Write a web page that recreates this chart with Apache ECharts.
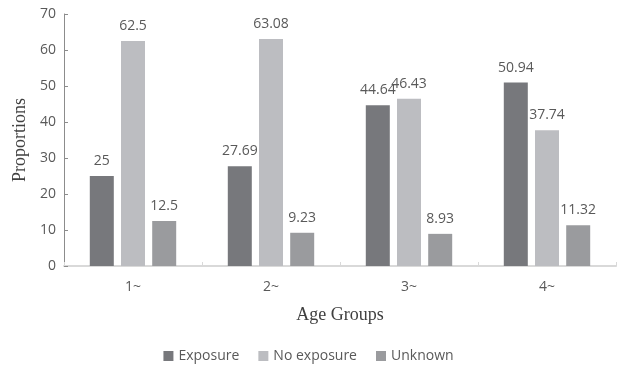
<!DOCTYPE html>
<html>
<head>
<meta charset="utf-8">
<script src="https://cdn.jsdelivr.net/npm/echarts@6/dist/echarts.min.js"></script>
<style>html,body{margin:0;padding:0;background:#fff;}#c{width:617px;height:372px;}</style>
</head>
<body>
<div id="c"></div>
<script>
const categories = ['1~', '2~', '3~', '4~'];
const exposure = [25, 27.69, 44.64, 50.94];
const noExposure = [62.5, 63.08, 46.43, 37.74];
const unknown = [12.5, 9.23, 8.93, 11.32];
const seriesNames = ['Exposure', 'No exposure', 'Unknown'];
const yTicks = { min: 0, max: 70, interval: 10 };

const colors = ['#77787c', '#bcbdc1', '#9a9b9e'];
const labelStyle = {
  show: true, position: 'top', distance: 8,
  color: '#595959', fontSize: 14, fontFamily: 'Open Sans'
};
function mk(name, data, i) {
  return {
    name: name, type: 'bar', data: data,
    barWidth: 24, barGap: '30%',
    itemStyle: { color: colors[i] },
    label: labelStyle
  };
}
const chart = echarts.init(document.getElementById('c'), null, { renderer: 'canvas' });
chart.setOption({
  animation: false,
  color: colors,
  grid: { left: 64, right: 1, top: 14, bottom: 106, containLabel: false, outerBoundsMode: 'none' },
  legend: {
    bottom: 4, left: 'center',
    itemWidth: 10, itemHeight: 10, itemGap: 19,
    icon: 'rect',
    textStyle: { color: '#595959', fontSize: 14, fontFamily: 'Open Sans' },
    data: seriesNames
  },
  xAxis: {
    type: 'category', data: categories,
    name: 'Age Groups', nameLocation: 'middle', nameGap: 40,
    nameTextStyle: { fontFamily: 'Liberation Serif', fontSize: 18, color: '#404040' },
    axisLine: { lineStyle: { color: '#d9d9d9', width: 2 } },
    axisTick: { show: true, alignWithLabel: false, inside: true, length: 4, lineStyle: { color: '#d9d9d9' } },
    axisLabel: { color: '#595959', fontSize: 14, fontFamily: 'Open Sans', margin: 14 }
  },
  yAxis: {
    type: 'value', min: yTicks.min, max: yTicks.max, interval: yTicks.interval,
    name: 'Proportions', nameLocation: 'middle', nameGap: 35, nameRotate: 90,
    nameTextStyle: { fontFamily: 'Liberation Serif', fontSize: 18, color: '#404040' },
    axisLine: { show: true, lineStyle: { color: '#8c8c8c', width: 1 } },
    axisTick: { show: true, inside: true, length: 4, lineStyle: { color: '#8c8c8c' } },
    splitLine: { show: false },
    axisLabel: { color: '#595959', fontSize: 14, fontFamily: 'Open Sans', margin: 8 }
  },
  series: [
    mk(seriesNames[0], exposure, 0),
    mk(seriesNames[1], noExposure, 1),
    mk(seriesNames[2], unknown, 2)
  ]
});
</script>
</body>
</html>
